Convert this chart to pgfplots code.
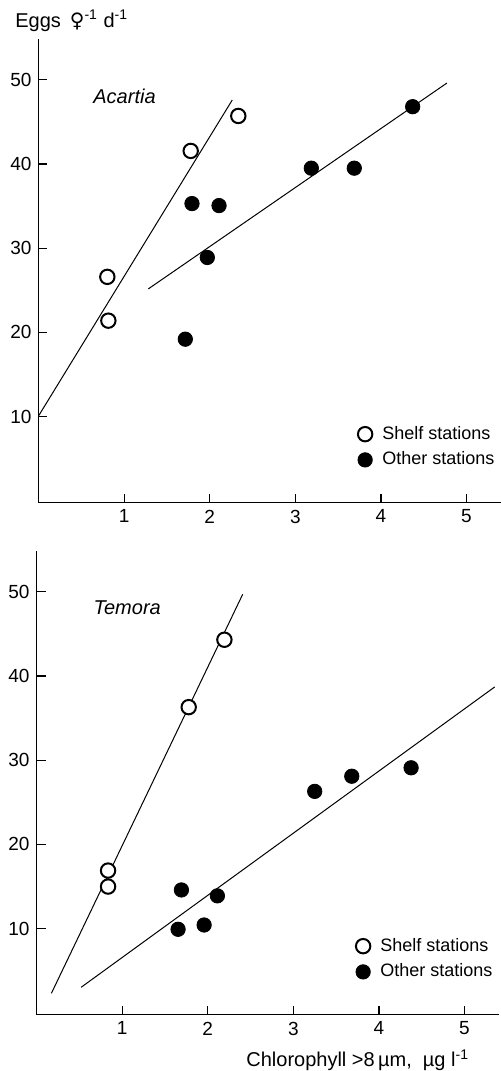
\documentclass[border=0pt]{standalone}
\usepackage{pgfplots}
\pgfplotsset{compat=1.18}
\usepackage{fontspec}
\setmainfont{Liberation Sans}
\newfontfamily\dejavu{DejaVu Sans}
\pgfplotsset{
 panel/.style={
  scale only axis, width=231.25pt, height=231.7pt,
  xmin=0, xmax=5.403, ymin=-0.21, ymax=54.8,
  axis x line=bottom, axis y line=left, axis line style={-, line width=0.8pt},
  tick align=inside, major tick length=4.5pt, tick style={line width=0.6pt, black},
  xtick={1,...,5}, ytick={10,20,...,50},
  ticklabel style={font=\fontsize{9.5}{11}\selectfont},
  /pgf/number format/assume math mode=true,
  clip=false,
  legend style={draw=none, fill=none, font=\fontsize{9}{11}\selectfont, row sep=0.85pt, column sep=3pt, inner sep=0pt},
  legend cell align=left,
  legend image code/.code={\draw[mark repeat=2,mark phase=2,##1] plot coordinates {(0cm,0cm) (0.12cm,0cm) (0.24cm,0cm)};},
 },
 open/.style={only marks, mark=*, mark size=3.6pt, mark options={fill=white, draw=black, line width=1pt}},
 closed/.style={only marks, mark=*, mark size=3.6pt, mark options={fill=black, draw=black}},
 fit/.style={no marks, black, line width=0.5pt, forget plot},
}
\begin{document}
\begin{tikzpicture}
\path[use as bounding box] (0,0) rectangle (250.5pt,535.5pt);
% top panel: Acartia
\begin{axis}[panel, at={(19.25pt,284.15pt)}, anchor=south west,
  legend style={at={(axis cs:3.727,9.4)}, anchor=north west}]
\addplot[fit] coordinates {(0,10.08) (2.264,47.6)};
\addplot[fit] coordinates {(1.283,25.17) (4.77,49.6)};
\addplot[open] coordinates {(2.334,45.7) (1.778,41.55) (0.804,26.6) (0.816,21.4)};
\addlegendentry{Shelf stations}
\addplot[closed] coordinates {(4.371,46.8) (3.187,39.5) (3.689,39.5) (1.793,35.3) (2.109,35.06) (1.972,28.9) (1.715,19.2)};
\addlegendentry{Other stations}
\end{axis}
% bottom panel: Temora
\begin{axis}[panel, at={(18.25pt,28.15pt)}, anchor=south west,
  legend style={at={(axis cs:3.727,9.4)}, anchor=north west}]
\addplot[fit] coordinates {(0.174,2.33) (2.409,49.7)};
\addplot[fit] coordinates {(0.521,3.04) (5.353,38.7)};
\addplot[open] coordinates {(2.195,44.3) (1.778,36.3) (0.836,16.9) (0.836,15.0)};
\addlegendentry{Shelf stations}
\addplot[closed] coordinates {(4.376,29.1) (3.683,28.1) (3.25,26.3) (1.693,14.6) (2.113,13.9) (1.654,9.93) (1.958,10.44)};
\addlegendentry{Other stations}
\end{axis}
\node[anchor=west, inner sep=0pt, font=\fontsize{10}{12}\selectfont] at (7.5pt,525.15pt) {Eggs \,{\dejavu ♀}\textsuperscript{-1} d\textsuperscript{-1}};
\node[anchor=west, inner sep=0pt, font=\fontsize{10}{12}\itshape] at (46.5pt,487.15pt) {Acartia};
\node[anchor=west, inner sep=0pt, font=\fontsize{10}{12}\itshape] at (46.65pt,231.85pt) {Temora};
\node[anchor=west, inner sep=0pt, font=\fontsize{10}{12}\selectfont] at (123pt,5.5pt) {Chlorophyll >8\,µm, \ µg l\textsuperscript{-1}};
\end{tikzpicture}
\end{document}
